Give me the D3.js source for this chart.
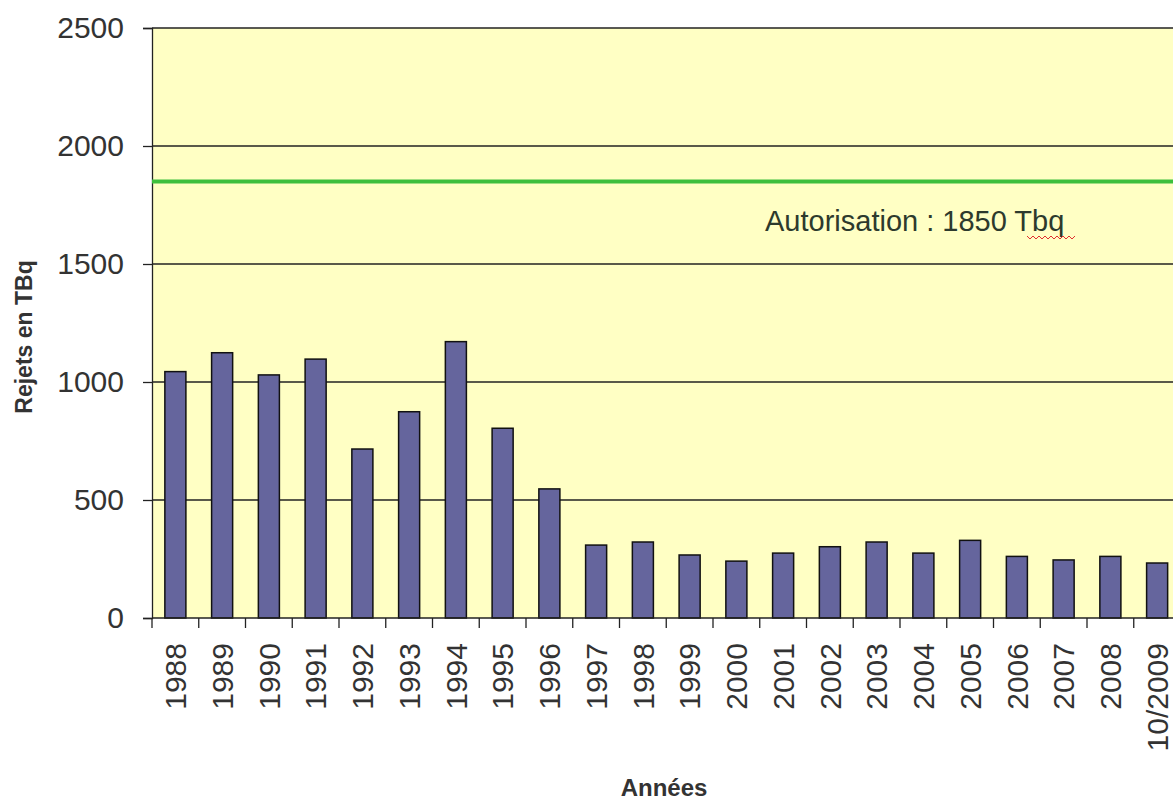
<!DOCTYPE html>
<html>
<head>
<meta charset="utf-8">
<script src="https://cdn.jsdelivr.net/npm/d3@7"></script>
<style>
  body { margin: 0; background: #fff; }
  text { font-family: Arial, "Liberation Sans", sans-serif; }
</style>
</head>
<body>
<svg id="chart" width="1173" height="801"></svg>
<script>
const years = ['1988', '1989', '1990', '1991', '1992', '1993', '1994', '1995', '1996', '1997', '1998',
  '1999', '2000', '2001', '2002', '2003', '2004', '2005', '2006', '2007', '2008', '10/2009'];
const rejets = [1044, 1124, 1030, 1097, 716, 874, 1171, 804, 547, 309, 322,
  267, 241, 275, 302, 322, 275, 329, 261, 246, 261, 233];
const yTicks = [0, 500, 1000, 1500, 2000, 2500];
const autorisation = 1850;

const svg = d3.select('#chart');
const plotLeft = 152, plotTop = 28, plotBottom = 618;
const bandW = 46.75;
const plotRight = plotLeft + years.length * bandW;   // runs past the picture edge, like the source

const x = d3.scaleBand().domain(years).range([plotLeft, plotRight]).paddingInner(0.55).paddingOuter(0.275);
const y = d3.scaleLinear().domain([0, 2500]).range([plotBottom, plotTop]);

// plot background
svg.append('rect')
  .attr('x', plotLeft).attr('y', plotTop)
  .attr('width', plotRight - plotLeft).attr('height', plotBottom - plotTop)
  .style('fill', '#ffffc4');

// grid lines
svg.append('g').selectAll('line')
  .data(yTicks.filter(d => d > 0))
  .join('line')
  .attr('x1', plotLeft).attr('x2', plotRight)
  .attr('y1', d => y(d)).attr('y2', d => y(d))
  .style('stroke', '#222').style('stroke-width', 1.3);

// bars
svg.append('g').selectAll('rect')
  .data(rejets)
  .join('rect')
  .attr('x', (d, i) => x(years[i]))
  .attr('y', d => y(d))
  .attr('width', x.bandwidth())
  .attr('height', d => plotBottom - y(d))
  .style('fill', '#65659d')
  .style('stroke', '#111')
  .style('stroke-width', 1.5);

// y axis
const yAxis = svg.append('g')
  .attr('transform', `translate(${plotLeft},0)`)
  .call(d3.axisLeft(y).tickValues(yTicks).tickFormat(d3.format('d')).tickSize(9).tickPadding(19));
yAxis.select('.domain').style('stroke', '#222').style('stroke-width', 1.3);
yAxis.selectAll('.tick line').style('stroke', '#222').style('stroke-width', 1.3);
yAxis.selectAll('text')
  .style('font-size', '30px')
  .style('font-family', 'Arial, "Liberation Sans", sans-serif')
  .style('fill', '#333');

// x axis: ticks on band edges
const xAxis = svg.append('g').attr('transform', `translate(0,${plotBottom})`);
xAxis.append('line')
  .attr('x1', plotLeft).attr('x2', plotRight)
  .style('stroke', '#222').style('stroke-width', 1.3);
xAxis.selectAll('line.tk')
  .data(d3.range(years.length + 1))
  .join('line')
  .attr('class', 'tk')
  .attr('x1', i => plotLeft + i * bandW).attr('x2', i => plotLeft + i * bandW)
  .attr('y1', 0).attr('y2', 10)
  .style('stroke', '#222').style('stroke-width', 1.3);
xAxis.selectAll('text')
  .data(years)
  .join('text')
  .attr('transform', d => `translate(${x(d) + x.bandwidth() / 2},25) rotate(-90)`)
  .attr('text-anchor', 'end')
  .attr('dy', '0.36em')
  .text(d => d)
  .style('font-size', '30px')
  .style('fill', '#333');

// authorisation limit
svg.append('line')
  .attr('x1', plotLeft).attr('x2', plotRight)
  .attr('y1', y(autorisation)).attr('y2', y(autorisation))
  .style('stroke', '#3dbf3d').style('stroke-width', 4);

svg.append('text')
  .attr('x', 765).attr('y', 231)
  .text('Autorisation : 1850 Tbq')
  .style('font-size', '29px')
  .style('fill', '#2d3a2d');

// spell-check squiggle under "Tbq"
let wave = 'M1027,236';
for (let k = 0; k < 16; k++) wave += ` l3,${k % 2 ? -3 : 3}`;
svg.append('path').attr('d', wave)
  .style('fill', 'none').style('stroke', '#e03030').style('stroke-width', 1);

// axis titles
svg.append('text')
  .attr('transform', 'translate(32,337) rotate(-90)')
  .attr('text-anchor', 'middle')
  .text('Rejets en TBq')
  .style('font-size', '23px').style('font-weight', 'bold').style('fill', '#333');

svg.append('text')
  .attr('x', 664).attr('y', 796)
  .attr('text-anchor', 'middle')
  .text('Années')
  .style('font-size', '24px').style('font-weight', 'bold').style('fill', '#333');
</script>
</body>
</html>
